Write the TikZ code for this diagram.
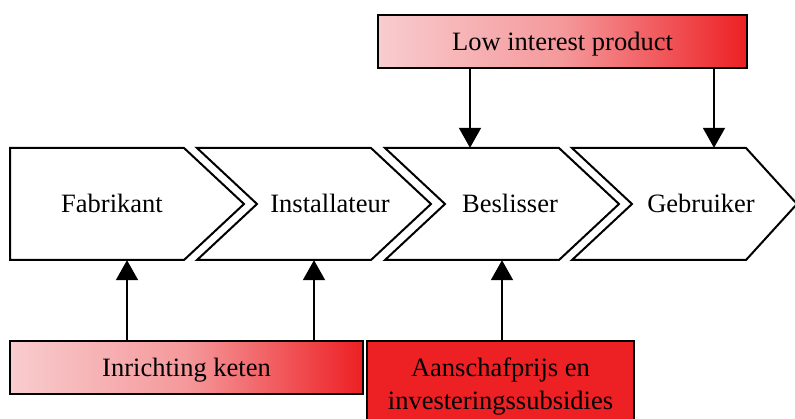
\documentclass[tikz,border=0pt]{standalone}
\usepackage{fontspec}
\setmainfont{Liberation Serif}
\usepackage{tikz}
\usetikzlibrary{arrows.meta}
\definecolor{roodL}{RGB}{248,204,206}
\definecolor{roodD}{RGB}{237,32,36}
\tikzstyle{line} = [draw, line width=2pt, -{Triangle[length=20pt,width=22pt]}]

\begin{document}
\begin{tikzpicture}[x=1pt, y=-1pt, font=\fontsize{26.5}{33}\selectfont,
	schakel/.style={draw, line width=2pt, line join=miter},
	tekst/.style={inner sep=0pt, minimum height=112pt, text height=18pt, text depth=0pt},
	kader/.style={draw, line width=2pt, inner sep=0pt, align=center},
	verloop/.style={kader, text height=18pt, text depth=0pt, left color=roodL, right color=roodD, middle color=roodD!30!roodL}]
	\useasboundingbox (0,0) rectangle (795,419);
	%Ketenschakels
	\draw[schakel] (10,148) -- (184,148) -- (244,204) -- (184,260) -- (10,260) -- cycle;
	\draw[schakel] (197,148) -- (371,148) -- (431,204) -- (371,260) -- (197,260) -- (257,204) -- cycle;
	\draw[schakel] (385,148) -- (559,148) -- (619,204) -- (559,260) -- (385,260) -- (445,204) -- cycle;
	\draw[schakel] (572,148) -- (746,148) -- (797,204) -- (746,260) -- (572,260) -- (632,204) -- cycle;
	\node[tekst] (fab) at (112,204) {Fabrikant};
	\node[tekst] (inst) at (330,204) {Installateur};
	\node[tekst] (besl) at (510,204) {Beslisser};
	\node[tekst] (gebr) at (701,204) {Gebruiker};
	%Invloeden
	\node[verloop, minimum width=369pt, minimum height=53pt] (lip) at (562.5,41.5) {Low interest product};
	\node[verloop, minimum width=353pt, minimum height=53pt] (ink) at (186.5,367.5) {Inrichting keten};
	\node[kader, fill=roodD, minimum width=267pt, minimum height=92pt] (aan) at (500.5,387) {Aanschafprijs en\\investeringssubsidies};
	%Pijlen
	\coordinate (p1) at (470,0);
	\coordinate (p2) at (714,0);
	\coordinate (p3) at (127,0);
	\coordinate (p4) at (314,0);
	\coordinate (p5) at (502,0);
	\path[line] (lip.south -| p1) -- (besl.north -| p1);
	\path[line] (lip.south -| p2) -- (gebr.north -| p2);
	\path[line] (ink.north -| p3) -- (fab.south -| p3);
	\path[line] (ink.north -| p4) -- (inst.south -| p4);
	\path[line] (aan.north -| p5) -- (besl.south -| p5);
\end{tikzpicture}
\end{document}
